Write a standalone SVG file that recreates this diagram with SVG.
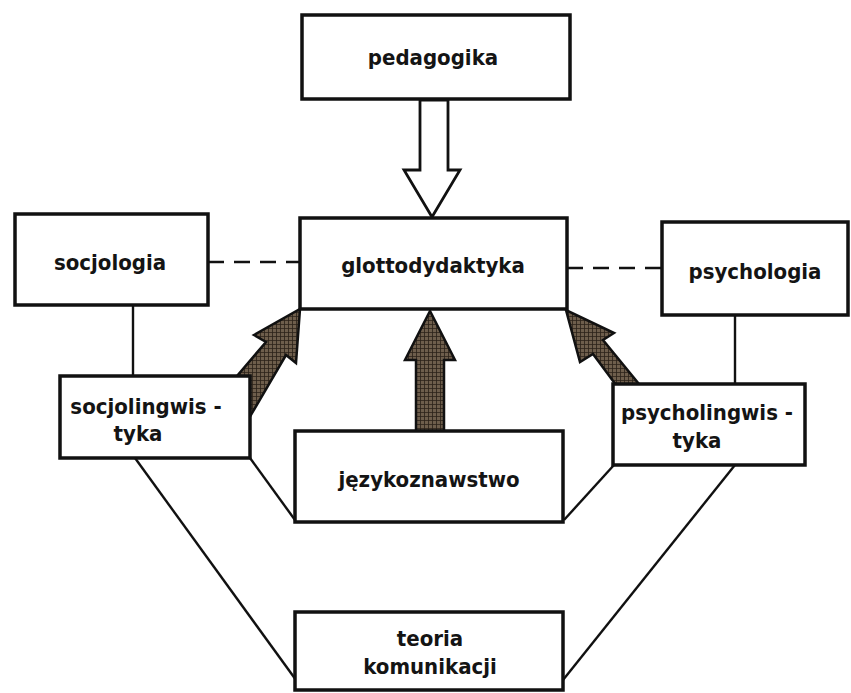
<svg xmlns="http://www.w3.org/2000/svg" width="851" height="693" viewBox="0 0 851 693">
<style>
.box{fill:#fff;stroke:#111;stroke-width:3.5}
.ln{stroke:#111;stroke-width:2.4;fill:none}
.dash{stroke:#111;stroke-width:2.6;fill:none;stroke-dasharray:16 10}
.t{font-family:"DejaVu Sans Condensed","DejaVu Sans",sans-serif;font-weight:bold;font-size:22px;fill:#141414;text-anchor:middle}
.ga{fill:url(#hatch);stroke:#111;stroke-width:2.5;stroke-linejoin:miter}
</style>
<defs>
<pattern id="hatch" width="4" height="4" patternUnits="userSpaceOnUse">
<rect width="4" height="4" fill="#6e5e4c"/>
<path d="M0 0H4M0 0V4" stroke="#2a2118" stroke-width="1.6"/>
</pattern>
</defs>
<rect width="851" height="693" fill="#fff"/>
<g id="connectors">
<path class="dash" d="M208 262H300"/>
<path class="dash" d="M567 268H662"/>
<path class="ln" d="M133 305V376"/>
<path class="ln" d="M735 315V384"/>
<path class="ln" d="M250 458L295 520"/>
<path class="ln" d="M614 465L564 520"/>
<path class="ln" d="M135 458L296 680"/>
<path class="ln" d="M735 465L563 680"/>
<polygon id="arrow-ped" points="420,100 448,100 448,170 460,170 432,217 404,170 420,170" fill="#fff" stroke="#111" stroke-width="2.8"/>
<polygon id="arrow-mid" class="ga" points="416,432 416,360 405,360 430,311 455,360 444,360 444,432"/>
<polygon id="arrow-left" class="ga" points="225,390 266,342 254,335 300,309 296,363 286,355 248,420"/>
<polygon id="arrow-right" class="ga" points="642,420 593,354 580,362 566,310 614,333 603,340 652,400"/>
</g>
<g id="pedagogika"><rect class="box" x="302" y="15" width="268" height="84"/><text class="t" x="433" y="65">pedagogika</text></g>
<g id="glottodydaktyka"><rect class="box" x="300" y="218" width="267" height="91"/><text class="t" x="433" y="273">glottodydaktyka</text></g>
<g id="socjologia"><rect class="box" x="15" y="214" width="193" height="91"/><text class="t" x="110" y="270">socjologia</text></g>
<g id="psychologia"><rect class="box" x="662" y="222" width="186" height="93"/><text class="t" x="755" y="279">psychologia</text></g>
<g id="socjolingwistyka"><rect class="box" x="60" y="376" width="190" height="82"/><text class="t" x="146" y="414">socjolingwis -</text><text class="t" x="138" y="441">tyka</text></g>
<g id="psycholingwistyka"><rect class="box" x="613" y="384" width="192" height="81"/><text class="t" x="707" y="420">psycholingwis -</text><text class="t" x="697" y="448">tyka</text></g>
<g id="jezykoznawstwo"><rect class="box" x="295" y="431" width="268" height="91"/><text class="t" x="429" y="487">językoznawstwo</text></g>
<g id="teoria"><rect class="box" x="295" y="612" width="268" height="78"/><text class="t" x="430" y="646">teoria</text><text class="t" x="430" y="674">komunikacji</text></g>
</svg>
